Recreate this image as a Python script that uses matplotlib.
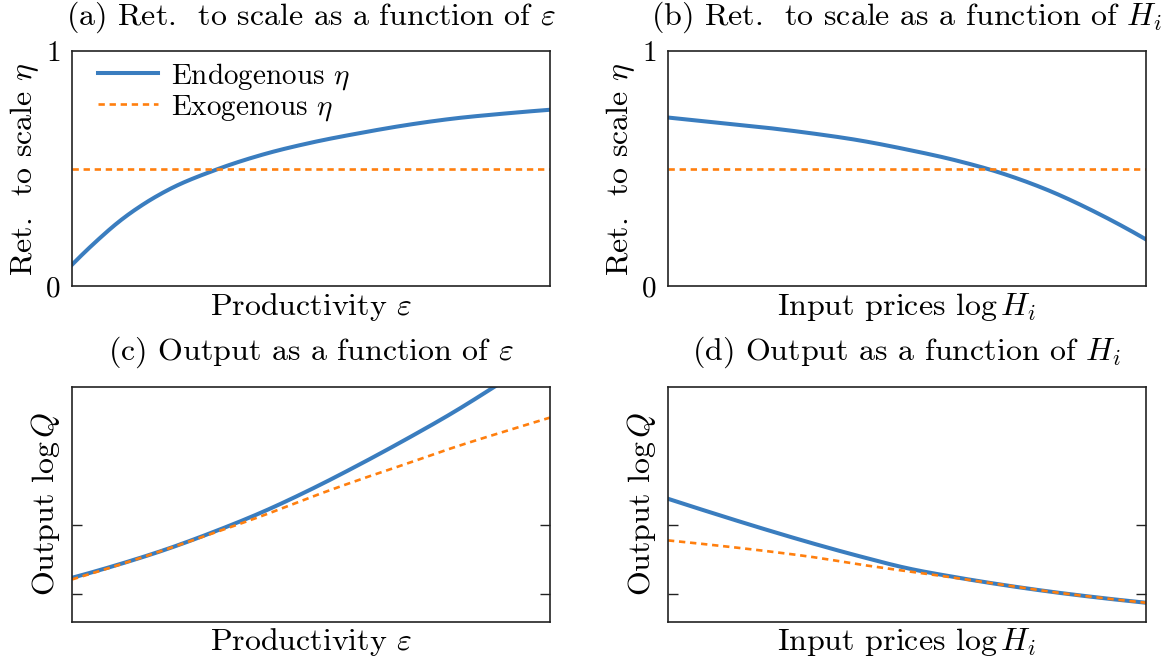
import numpy as np
import matplotlib
matplotlib.use("Agg")
import matplotlib.pyplot as plt

plt.rcParams['font.family'] = ['cmr10', 'DejaVu Serif']
plt.rcParams['mathtext.fontset'] = 'cm'
plt.rcParams['axes.unicode_minus'] = False
plt.rcParams['axes.formatter.use_mathtext'] = True

# Data (normalised positions along x)
x_frac = [0.0, 0.1, 0.2, 0.3, 0.4, 0.5, 0.6, 0.7, 0.8, 0.9, 1.0]
x_frac_a = [0.0, 0.05, 0.1, 0.15, 0.2, 0.3, 0.4, 0.5, 0.6, 0.7, 0.8, 0.9, 1.0]

eta_endo_eps = [0.092, 0.19, 0.278, 0.35, 0.409, 0.495, 0.561, 0.611, 0.651,
                0.686, 0.714, 0.734, 0.751]
eta_exo_eps = [0.5] * 13

eta_endo_H = [0.718, 0.697, 0.676, 0.651, 0.621, 0.582, 0.537, 0.48, 0.405, 0.31, 0.20]
eta_exo_H = [0.5] * 11

q_endo_eps = [0.187, 0.245, 0.31, 0.385, 0.468, 0.563, 0.667, 0.777, 0.893, 1.02, 1.15]
q_exo_eps = [0.180, 0.243, 0.31, 0.38, 0.452, 0.53, 0.603, 0.672, 0.742, 0.806, 0.868]

q_endo_H = [0.523, 0.458, 0.395, 0.335, 0.279, 0.228, 0.19, 0.157, 0.128, 0.103, 0.081]
q_exo_H = [0.346, 0.325, 0.302, 0.276, 0.244, 0.215, 0.187, 0.157, 0.128, 0.103, 0.081]

q_ticks = [0.116, 0.411]

titles = [r"(a) Ret.  to scale as a function of $\varepsilon$",
          r"(b) Ret.  to scale as a function of $H_i$",
          r"(c) Output as a function of $\varepsilon$",
          r"(d) Output as a function of $H_i$"]
xlabels = [r"Productivity $\varepsilon$", r"Input prices $\log H_i$",
           r"Productivity $\varepsilon$", r"Input prices $\log H_i$"]
ylabels = [r"Ret.  to scale $\eta$", r"Ret.  to scale $\eta$",
           r"Output $\log Q$", r"Output $\log Q$"]

BLUE = '#3a7dbf'
ORANGE = '#ff7f0e'


def smooth(xp, yp, n=300):
    """Cubic Hermite interpolation through the read points."""
    xp = np.asarray(xp, float)
    yp = np.asarray(yp, float)
    xs = np.linspace(xp[0], xp[-1], n)
    m = np.gradient(yp, xp, edge_order=2)
    idx = np.clip(np.searchsorted(xp, xs, side='right') - 1, 0, len(xp) - 2)
    h = xp[idx + 1] - xp[idx]
    t = (xs - xp[idx]) / h
    h00 = 2 * t**3 - 3 * t**2 + 1
    h10 = t**3 - 2 * t**2 + t
    h01 = -2 * t**3 + 3 * t**2
    h11 = t**3 - t**2
    ys = h00 * yp[idx] + h10 * h * m[idx] + h01 * yp[idx + 1] + h11 * h * m[idx + 1]
    return xs, ys


fig, axes = plt.subplots(2, 2, figsize=(11.61, 6.65), dpi=100)
fig.subplots_adjust(left=0.062, right=0.987, top=0.923, bottom=0.065,
                    hspace=0.426, wspace=0.247)

series = [(x_frac_a, eta_endo_eps, eta_exo_eps), (x_frac, eta_endo_H, eta_exo_H),
          (x_frac, q_endo_eps, q_exo_eps), (x_frac, q_endo_H, q_exo_H)]

FS = 23
for i, ax in enumerate(axes.flat):
    xp, endo, exo = series[i]
    xe, ye = smooth(xp, endo)
    xx, yx = smooth(xp, exo)
    ax.plot(xe, ye, color=BLUE, lw=2.9, label=r"Endogenous $\eta$")
    ax.plot(xx, yx, color=ORANGE, lw=1.9, ls=(0, (2.4, 1.8)),
            label=r"Exogenous $\eta$")
    ax.set_xlim(0, 1)
    ax.set_ylim(0, 1)
    ax.set_xticks([])
    ax.set_title(titles[i], fontsize=FS, pad=19)
    ax.set_xlabel(xlabels[i], fontsize=FS, labelpad=3)
    ax.set_ylabel(ylabels[i], fontsize=FS, labelpad=4)
    for s in ax.spines.values():
        s.set_linewidth(1.2)
        s.set_color('#222222')
    if i < 2:
        ax.set_yticks([0, 1])
        ax.set_yticklabels(["0", "1"])
        ax.tick_params(axis='y', length=0, labelsize=21, pad=8)
    else:
        ax.set_yticks(q_ticks)
        ax.set_yticklabels([])
        ax.tick_params(axis='y', direction='in', length=7, width=1.0,
                       left=True, right=True, color='#222222')

axes[0, 0].legend(loc='upper left', bbox_to_anchor=(0.030, 1.009),
                  frameon=False, fontsize=21, borderaxespad=0,
                  handlelength=2.05, labelspacing=0.05, handletextpad=0.45)

fig.savefig("out.png", dpi=100)
